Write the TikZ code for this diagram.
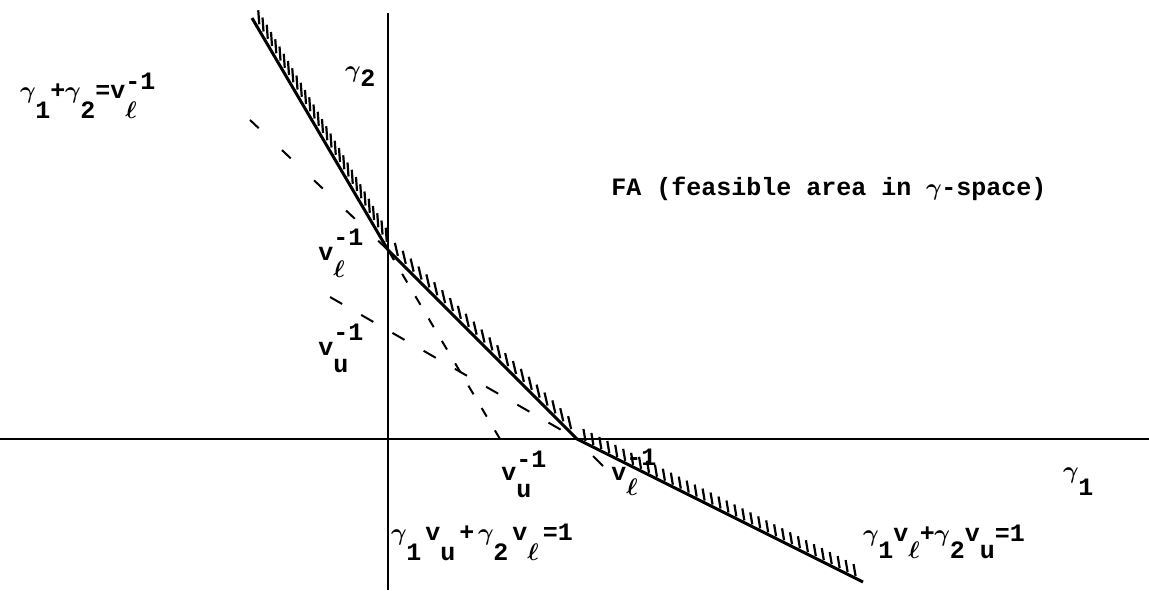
\documentclass[tikz,border=0pt]{standalone}
\usepackage{fontspec}
\setmainfont{Liberation Mono}
\usetikzlibrary{calc}
\newcommand{\lowr}[2][8.5pt]{\raisebox{-#1}{#2}}
\newcommand{\highr}[2][7.5pt]{\raisebox{#1}{#2}}
\newcommand{\el}{\ensuremath{\ell}}
\newcommand{\gm}{\makebox[0.6em][c]{$\gamma$}}
\begin{document}
\begin{tikzpicture}[x=0.5pt,y=-0.5pt,
  lbl/.style={anchor=base west,inner sep=0pt,font=\fontsize{12.5}{15}\selectfont\bfseries\boldmath},
  axis/.style={line width=1.2pt},
  bound/.style={line width=1.5pt,line join=round},
  dshA/.style={line width=1pt,dash pattern=on 6pt off 16pt},
  dshB/.style={line width=1pt,dash pattern=on 5pt off 8pt},
  dshC/.style={line width=1pt,dash pattern=on 7pt off 11pt},
  hatch/.style={line width=1.1pt}]
\useasboundingbox (0,0) rectangle (1149,590);
% axes
\coordinate (Ytop) at (388,13);
\coordinate (Ybot) at (388,590);
\coordinate (Xl) at (0,439);
\coordinate (Xr) at (1149,439);
\draw[axis] (Ytop) -- (Ybot);
\draw[axis] (Xl) -- (Xr);
% key points
\coordinate (T) at (252,18);
\coordinate (K) at (388,250);
\coordinate (X) at (577,439);
\coordinate (E) at (863,582);
\coordinate (U1) at (500,439);
\coordinate (A) at (250,120);
\coordinate (B1) at (593,456);
\coordinate (B2) at (603,466);
\coordinate (C) at (330,297);
% boundary of feasible area
\draw[bound] (T) -- (K) -- (X) -- (E);
% dashed continuations
\draw[dshA] (A) -- (K);
\draw[dshB] (U1) -- (K);
\draw[dshC] (C) -- (X);
\draw[line width=1pt] (B1) -- (B2);
% hatching
\foreach \i in {1,...,31}{\draw[hatch] ($(T)!{\i/32}!(K)$) ++(3,-1) -- ++(-1,-14);}
\foreach \i in {1,...,23}{\draw[hatch] ($(K)!{\i/24}!(X)$) ++(2,-2) -- ++(-3,-13);}
\foreach \i in {1,...,35}{\draw[hatch] ($(X)!{\i/36}!(E)$) ++(0.5,-2) -- ++(-2,-12);}
% labels
\node[lbl] (l1) at (20,98) {\gm\lowr[10pt]{1}+\gm\lowr[10pt]{2}=v\rlap{\lowr[10pt]{\el}}\highr[4.5pt]{-1}};
\node[lbl] (g2) at (345,77) {\gm\lowr[4.5pt]{2}};
\node[lbl] (fa) at (611,195) {FA (feasible area in \gm-space)};
\node[lbl] (vly) at (318,260) {v\rlap{\lowr[8.5pt]{\el}}\highr[7.5pt]{-1}};
\node[lbl] (vuy) at (318,355) {v\rlap{\lowr[8.5pt]{u}}\highr[7.5pt]{-1}};
\node[lbl] (vux) at (501,480) {v\rlap{\lowr[8.5pt]{u}}\highr[6.5pt]{-1}};
\node[lbl] (vlx) at (611,480) {v\rlap{\lowr[7.5pt]{\el}}\highr[7.5pt]{-1}};
\node[lbl] (g1) at (1063,478) {\gm\lowr[8.5pt]{1}};
\node[lbl] (eq1) at (391,540) {\gm\lowr[10pt]{1}\kern2pt v\lowr[10pt]{u}\kern2pt+\kern2pt\gm\lowr[10pt]{2}\kern2pt v\lowr[10pt]{\el}\kern2pt=1};
\node[lbl] (eq2) at (863,541) {\gm\lowr[8.5pt]{1}v\lowr[8.5pt]{\el}+\gm\lowr[8.5pt]{2}v\lowr[8.5pt]{u}=1};
\end{tikzpicture}
\end{document}
